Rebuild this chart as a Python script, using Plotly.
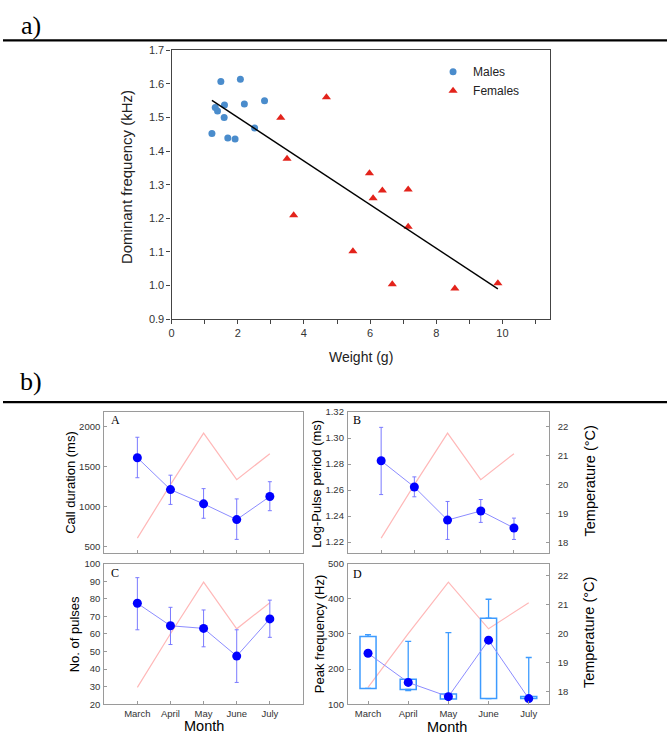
import plotly.graph_objects as go

# ---------------- a) body weight vs dominant frequency ----------------
male_weight = [1.22, 1.49, 2.08, 1.32, 1.39, 1.60, 1.59, 1.70, 1.92, 2.20, 2.81, 2.51]
male_freq = [1.452, 1.607, 1.614, 1.530, 1.519, 1.537, 1.500, 1.439, 1.436, 1.540, 1.550, 1.469]
female_weight = [3.30, 4.68, 3.49, 3.69, 5.98, 6.09, 6.37, 7.15, 7.15, 5.48, 6.67, 8.56, 9.86]
female_freq = [1.499, 1.560, 1.377, 1.209, 1.334, 1.260, 1.283, 1.286, 1.175, 1.102, 1.004, 0.991, 1.007]
trend_weight = [1.22, 9.86]
trend_freq = [1.551, 0.990]

# ---------------- b) monthly call parameters ----------------
months = ["March", "April", "May", "June", "July"]
temperature = [18.15, 20.0, 21.78, 20.17, 21.07]

call_duration = [1612, 1212, 1033, 835, 1125]
call_duration_hi = [1869, 1393, 1224, 1095, 1311]
call_duration_lo = [1361, 1026, 852, 587, 947]

pulse_period = [1.2825, 1.2623, 1.2369, 1.2439, 1.2308]
pulse_period_hi = [1.3082, 1.2701, 1.2512, 1.2527, 1.2384]
pulse_period_lo = [1.2565, 1.2548, 1.2220, 1.2351, 1.2220]

n_pulses = [77.5, 64.7, 63.2, 47.4, 68.6]
n_pulses_hi = [92.1, 75.2, 73.7, 62.4, 79.3]
n_pulses_lo = [62.4, 54.0, 52.7, 32.4, 58.1]

peak_freq = [245, 162, 121.5, 282.5, 116]
peak_q1 = [145, 142, 115, 116, 116]
peak_q3 = [293, 171, 129, 345, 122]
peak_max = [298, 279, 304, 399, 233]
peak_min = [145, 139, 115, 116, 116]

W, H = 667, 740
SANS = "Liberation Sans, Arial, sans-serif"
SERIF = "Liberation Serif, Times New Roman, serif"

MALE_C = "#4a8ccc"
FEMALE_C = "#e3231b"
DOT_C = "#0000ff"
LINK_C = "#8c8cff"
ERR_C = "#7a7aff"
TEMP_C = "#ffb8b8"
BOX_C = "#3d9bff"
FRAME_C = "#9a9a9a"
TICK_C = "#333333"

pos = list(range(len(months)))


def px_x(x0, x1):
    return [x0 / W, x1 / W]


def px_y(top, bottom):
    return [1 - bottom / H, 1 - top / H]


fig = go.Figure()

# ---- panel a traces ----
fig.add_trace(go.Scatter(x=male_weight, y=male_freq, mode="markers", name="Males",
                         marker=dict(symbol="circle", size=7, color=MALE_C),
                         xaxis="x", yaxis="y"))
fig.add_trace(go.Scatter(x=female_weight, y=female_freq, mode="markers", name="Females",
                         marker=dict(symbol="triangle-up", size=8, color=FEMALE_C),
                         xaxis="x", yaxis="y"))
fig.add_trace(go.Scatter(x=trend_weight, y=trend_freq, mode="lines", showlegend=False,
                         line=dict(color="black", width=1.4), xaxis="x", yaxis="y"))


def err(v, hi, lo):
    return dict(type="data", symmetric=False,
                array=[h - a for h, a in zip(hi, v)],
                arrayminus=[a - l for a, l in zip(v, lo)],
                color=ERR_C, thickness=1, width=2)


def add_monthly(xa, ya_temp, ya_val, values, hi=None, lo=None):
    fig.add_trace(go.Scatter(x=pos, y=temperature, mode="lines", showlegend=False,
                             line=dict(color=TEMP_C, width=1.2), xaxis=xa, yaxis=ya_temp))
    fig.add_trace(go.Scatter(x=pos, y=values, mode="lines+markers", showlegend=False,
                             line=dict(color=LINK_C, width=1),
                             marker=dict(color=DOT_C, size=9),
                             error_y=err(values, hi, lo) if hi is not None else None,
                             xaxis=xa, yaxis=ya_val))


# A: call duration
add_monthly("x2", "y2", "y3", call_duration, call_duration_hi, call_duration_lo)
# B: log pulse period
add_monthly("x3", "y4", "y5", pulse_period, pulse_period_hi, pulse_period_lo)
# C: number of pulses
add_monthly("x4", "y6", "y7", n_pulses, n_pulses_hi, n_pulses_lo)

# D: peak frequency (boxes with upper / lower whiskers)
fig.add_trace(go.Scatter(x=pos, y=temperature, mode="lines", showlegend=False,
                         line=dict(color=TEMP_C, width=1.2), xaxis="x5", yaxis="y8"))
fig.add_trace(go.Bar(x=pos, y=[b - a for a, b in zip(peak_q1, peak_q3)], base=peak_q1,
                     width=0.4, showlegend=False,
                     marker=dict(color="rgba(0,0,0,0)", line=dict(color=BOX_C, width=1.5)),
                     xaxis="x5", yaxis="y9"))
fig.add_trace(go.Scatter(x=pos, y=peak_q3, mode="markers", showlegend=False,
                         marker=dict(size=1, color="rgba(0,0,0,0)"),
                         error_y=dict(type="data", symmetric=False,
                                      array=[m - q for m, q in zip(peak_max, peak_q3)],
                                      arrayminus=[0] * 5, color=BOX_C, thickness=1.3, width=3),
                         xaxis="x5", yaxis="y9"))
fig.add_trace(go.Scatter(x=pos, y=peak_q1, mode="markers", showlegend=False,
                         marker=dict(size=1, color="rgba(0,0,0,0)"),
                         error_y=dict(type="data", symmetric=False, array=[0] * 5,
                                      arrayminus=[q - m for q, m in zip(peak_q1, peak_min)],
                                      color=BOX_C, thickness=1.3, width=3),
                         xaxis="x5", yaxis="y9"))
fig.add_trace(go.Scatter(x=pos, y=peak_freq, mode="lines+markers", showlegend=False,
                         line=dict(color=LINK_C, width=1),
                         marker=dict(color=DOT_C, size=9),
                         xaxis="x5", yaxis="y9"))

# ---- layout: panel a axes ----
axis_a = dict(showline=True, mirror=True, linecolor="#444444", linewidth=1.2,
              ticks="outside", ticklen=4, tickcolor="#444444", showgrid=False, zeroline=False,
              tickfont=dict(family=SANS, size=11, color="#333333"))
layout = dict(
    width=W, height=H, margin=dict(l=0, r=0, t=0, b=0),
    paper_bgcolor="white", plot_bgcolor="white",
    font=dict(family=SANS, color="black"),
    showlegend=True,
    legend=dict(x=432 / W, y=1 - 52 / H, xanchor="left", yanchor="top",
                bgcolor="rgba(0,0,0,0)", font=dict(family=SANS, size=12, color="#222222"),
                itemwidth=30, tracegroupgap=0),
    xaxis=dict(axis_a, domain=px_x(169.3, 549.3), range=[0, 11.43], anchor="y",
               tickvals=[0, 2, 4, 6, 8, 10],
               minor=dict(tickvals=[1, 3, 5, 7, 9, 11], ticks="outside", ticklen=4,
                          tickcolor="#444444")),
    yaxis=dict(axis_a, domain=px_y(45, 318.3), range=[0.9, 1.7], anchor="x",
               tickvals=[0.9, 1.0, 1.1, 1.2, 1.3, 1.4, 1.5, 1.6, 1.7], tickformat=".1f"),
)

# ---- layout: panel b axes ----
col1 = px_x(101.7, 301.3)
col2 = px_x(346.5, 548.3)
row1 = px_y(412.7, 556.5)
row2 = px_y(567.0, 709.7)
tickf = dict(family=SANS, size=9.5, color=TICK_C)


def xax(domain, anchor, labels, rng):
    return dict(domain=domain, anchor=anchor, range=rng, tickvals=pos,
                ticktext=months if labels else [""] * 5, showticklabels=labels,
                showline=True, mirror=True, linecolor=FRAME_C, linewidth=1,
                ticks="inside", ticklen=3, tickcolor=FRAME_C,
                showgrid=False, zeroline=False, tickfont=tickf)


def temp_ax(domain, anchor, rng, labels):
    return dict(domain=domain, anchor=anchor, range=rng, side="right",
                showline=True, mirror=True, linecolor=FRAME_C, linewidth=1,
                tickvals=[18, 19, 20, 21, 22] if labels else [],
                showticklabels=labels, ticks="inside" if labels else "",
                ticklen=3, tickcolor=FRAME_C, ticklabelstandoff=6,
                showgrid=False, zeroline=False, tickfont=tickf)


def val_ax(anchor, over, rng, tickvals, fmt=None):
    d = dict(anchor=anchor, overlaying=over, side="left", range=rng, tickvals=tickvals,
             showline=False, ticks="inside", ticklen=3, tickcolor=FRAME_C,
             showgrid=False, zeroline=False, tickfont=tickf, ticklabelstandoff=3)
    if fmt:
        d["tickformat"] = fmt
    return d


temp_rng_top = [17.62, 22.51]
temp_rng_bot = [17.57, 22.41]

layout.update(
    xaxis2=xax(col1, "y2", False, [-1, 5]),
    yaxis2=temp_ax(row1, "x2", temp_rng_top, False),
    yaxis3=val_ax("x2", "y2", [410, 2186], [500, 1000, 1500, 2000]),
    xaxis3=xax(col2, "y4", False, [-1, 5.05]),
    yaxis4=temp_ax(row1, "x3", temp_rng_top, True),
    yaxis5=val_ax("x3", "y4", [1.2112, 1.32], [1.22, 1.24, 1.26, 1.28, 1.30, 1.32], ".2f"),
    xaxis4=xax(col1, "y6", True, [-1, 5]),
    yaxis6=temp_ax(row2, "x4", temp_rng_bot, False),
    yaxis7=val_ax("x4", "y6", [20, 100], list(range(20, 101, 10))),
    xaxis5=xax(col2, "y8", True, [-0.5, 4.5]),
    yaxis8=temp_ax(row2, "x5", temp_rng_bot, True),
    yaxis9=val_ax("x5", "y8", [100, 500], [100, 200, 300, 400, 500]),
)
fig.update_layout(**layout)


def ann(text, x, y, size, family=SANS, angle=0, xanchor="center", color="black"):
    fig.add_annotation(text=text, x=x / W, y=1 - y / H, xref="paper", yref="paper",
                       showarrow=False, textangle=angle, xanchor=xanchor, yanchor="middle",
                       font=dict(family=family, size=size, color=color))


# section labels and rules
ann("a)", 16, 20, 26, SERIF, xanchor="left")
ann("b)", 15, 382, 26, SERIF, xanchor="left")
for y_rule in (35, 402.7):
    fig.add_shape(type="line", xref="paper", yref="paper", x0=0, x1=1,
                  y0=1 - y_rule / H, y1=1 - y_rule / H, line=dict(color="black", width=2.2))

# panel a titles
ann("Dominant frequency (kHz)", 123.5, 174, 15, angle=-90, color="#222222")
ann("Weight (g)", 360, 357, 14, color="#222222")

# panel b titles
ann("Call duration (ms)", 67, 484, 13, angle=-90)
ann("Log-Pulse period (ms)", 315, 486, 13, angle=-90)
ann("Temperature (°C)", 590, 483, 14.5, angle=-90)
ann("No. of pulses", 72, 639, 13, angle=-90)
ann("Peak frequency (Hz)", 318, 638, 13, angle=-90)
ann("Temperature (°C)", 588, 637, 14.5, angle=-90)
ann("Month", 201.5, 732, 14.5)
ann("Month", 446.5, 733, 14.5)

# panel letters
ann("A", 106, 420.5, 12, SERIF, xanchor="left")
ann("B", 350, 420.5, 12, SERIF, xanchor="left")
ann("C", 106, 576, 12, SERIF, xanchor="left")
ann("D", 350, 577, 12, SERIF, xanchor="left")

fig.write_html("out.html")
